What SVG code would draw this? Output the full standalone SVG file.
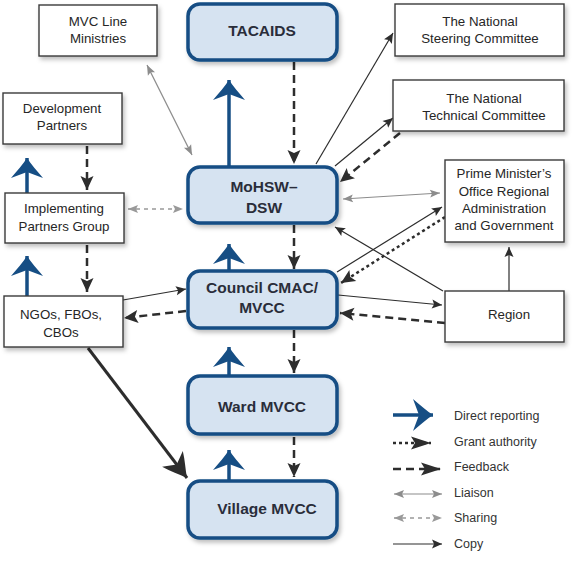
<svg xmlns="http://www.w3.org/2000/svg" width="579" height="561" viewBox="0 0 579 561">
<style>
.bn rect{fill:#d6e3f1;stroke:#164e84;stroke-width:3.5}
.wn rect{fill:#fff;stroke:#3a3a3a;stroke-width:1.4}
.bt{font-family:"Liberation Sans",Arial,sans-serif;font-weight:bold;font-size:15.5px;fill:#2a2d3a;text-anchor:middle}
.wt{font-family:"Liberation Sans",Arial,sans-serif;font-size:13.3px;fill:#262626;text-anchor:middle}
.lt{font-family:"Liberation Sans",Arial,sans-serif;font-size:12.5px;fill:#333}
.blue{stroke:#164e84;stroke-width:3.5;fill:none}
.fb{stroke:#2d2d2d;stroke-width:2.5;stroke-dasharray:8,5;fill:none}
.ga{stroke:#2d2d2d;stroke-width:2.5;stroke-dasharray:3,3;fill:none}
.cp{stroke:#2d2d2d;stroke-width:1.2;fill:none}
.li{stroke:#8c8c8c;stroke-width:1.2;fill:none}
.sh{stroke:#999;stroke-width:1.5;stroke-dasharray:4,4;fill:none}
</style>
<defs>
<filter id="ds" x="-10%" y="-10%" width="130%" height="140%">
<feDropShadow dx="2" dy="3" stdDeviation="2" flood-color="#000" flood-opacity="0.25"/>
</filter>
<marker id="mBlue" markerUnits="userSpaceOnUse" viewBox="-22 -17 24 34" refX="0" refY="0" markerWidth="24" markerHeight="34" orient="auto">
<path d="M0,0 C-6,-4 -13,-10 -20,-16 L-14,0 L-20,16 C-13,10 -6,4 0,0 Z" fill="#164e84"/>
</marker>
<marker id="mBig" markerUnits="userSpaceOnUse" viewBox="-26 -15 28 30" refX="0" refY="0" markerWidth="28" markerHeight="30" orient="auto">
<path d="M0,0 C-8,-4 -15,-9 -24,-13 L-17,0 L-24,13 C-15,9 -8,4 0,0 Z" fill="#2d2d2d"/>
</marker>
<marker id="mFb" markerUnits="userSpaceOnUse" viewBox="-16 -8 18 16" refX="0" refY="0" markerWidth="18" markerHeight="16" orient="auto">
<path d="M0,0 L-14,-6.5 L-11,0 L-14,6.5 Z" fill="#2d2d2d"/>
</marker>
<marker id="mFbL" markerUnits="userSpaceOnUse" viewBox="-22 -8 24 16" refX="0" refY="0" markerWidth="24" markerHeight="16" orient="auto">
<path d="M0,0 L-20,-6.5 L-16,0 L-20,6.5 Z" fill="#2d2d2d"/>
</marker>
<marker id="mCp" markerUnits="userSpaceOnUse" viewBox="-12 -6 14 12" refX="0" refY="0" markerWidth="14" markerHeight="12" orient="auto">
<path d="M0,0 L-10,-4.5 L-8,0 L-10,4.5 Z" fill="#2d2d2d"/>
</marker>
<marker id="mLi" markerUnits="userSpaceOnUse" viewBox="-12 -6 14 12" refX="0" refY="0" markerWidth="14" markerHeight="12" orient="auto-start-reverse">
<path d="M0,0 L-10,-4 L-8,0 L-10,4 Z" fill="#8c8c8c"/>
</marker>
<marker id="mSh" markerUnits="userSpaceOnUse" viewBox="-12 -6 14 12" refX="0" refY="0" markerWidth="14" markerHeight="12" orient="auto-start-reverse">
<path d="M0,0 L-10,-4 L-8,0 L-10,4 Z" fill="#999"/>
</marker>
</defs>

<g id="connectors">
<path class="blue" d="M229,167 V80" marker-end="url(#mBlue)"/>
<path class="blue" d="M229,270 V244" marker-end="url(#mBlue)"/>
<path class="blue" d="M229,375 V347" marker-end="url(#mBlue)"/>
<path class="blue" d="M229,480 V450" marker-end="url(#mBlue)"/>
<path class="blue" d="M27,193 V158" marker-end="url(#mBlue)"/>
<path class="blue" d="M27,296 V256" marker-end="url(#mBlue)"/>
<path class="fb" d="M294,62 V164" marker-end="url(#mFb)"/>
<path class="fb" d="M294,225 V269" marker-end="url(#mFb)"/>
<path class="fb" d="M294,330 V373" marker-end="url(#mFb)"/>
<path class="fb" d="M294,437 V477" marker-end="url(#mFb)"/>
<path class="fb" d="M87,146 V190" marker-end="url(#mFb)"/>
<path class="fb" d="M87,245 V292" marker-end="url(#mFb)"/>
<path class="fb" d="M186,311 L124,318" marker-end="url(#mFb)"/>
<path class="fb" d="M400,133 L340,182" marker-end="url(#mFb)"/>
<path class="fb" d="M445,323 L340,313" marker-end="url(#mFb)"/>
<path class="ga" d="M445,217 L341,283" marker-end="url(#mFb)"/>
<path stroke="#2d2d2d" stroke-width="3" fill="none" d="M88,348 L187,478" marker-end="url(#mBig)"/>
<path class="cp" d="M123,300 L186,289" marker-end="url(#mCp)"/>
<path class="cp" d="M316,164 L393,33" marker-end="url(#mCp)"/>
<path class="cp" d="M335,166 L393,118" marker-end="url(#mCp)"/>
<path class="cp" d="M337,272 L442,207" marker-end="url(#mCp)"/>
<path class="cp" d="M443,291 L335,227" marker-end="url(#mCp)"/>
<path class="cp" d="M338,295 L442,305" marker-end="url(#mCp)"/>
<path class="cp" d="M509,291 V247" marker-end="url(#mCp)"/>
<path class="li" d="M147,65 L192,155" marker-start="url(#mLi)" marker-end="url(#mLi)"/>
<path class="li" d="M343,199 L440,193" marker-start="url(#mLi)" marker-end="url(#mLi)"/>
<path class="sh" d="M128,209 L183,209" marker-start="url(#mSh)" marker-end="url(#mSh)"/>
</g>

<g id="tacaids" class="bn"><rect x="188" y="4" width="149" height="56" rx="12" filter="url(#ds)"/><text class="bt" x="262" y="36">TACAIDS</text></g>
<g id="mohsw" class="bn"><rect x="188" y="167" width="149" height="56" rx="12" filter="url(#ds)"/><text class="bt" x="264" y="192">MoHSW–</text><text class="bt" x="264" y="213">DSW</text></g>
<g id="council" class="bn"><rect x="188" y="271" width="149" height="57" rx="12" filter="url(#ds)"/><text class="bt" x="262" y="293">Council CMAC/</text><text class="bt" x="262" y="313">MVCC</text></g>
<g id="ward" class="bn"><rect x="188" y="376" width="149" height="58" rx="12" filter="url(#ds)"/><text class="bt" x="262" y="412">Ward MVCC</text></g>
<g id="village" class="bn"><rect x="188" y="481" width="149" height="57" rx="12" filter="url(#ds)"/><text class="bt" x="267" y="514">Village MVCC</text></g>

<g id="mvc" class="wn"><rect x="39" y="5" width="118" height="51" filter="url(#ds)"/><text class="wt" x="98" y="26">MVC Line</text><text class="wt" x="98" y="43">Ministries</text></g>
<g id="devpartners" class="wn"><rect x="3" y="93" width="119" height="51" filter="url(#ds)"/><text class="wt" x="62" y="113">Development</text><text class="wt" x="62" y="130">Partners</text></g>
<g id="ipg" class="wn"><rect x="5" y="193" width="119" height="50" filter="url(#ds)"/><text class="wt" x="64" y="213">Implementing</text><text class="wt" x="64" y="231">Partners Group</text></g>
<g id="ngos" class="wn"><rect x="4" y="296" width="119" height="51" filter="url(#ds)"/><text class="wt" x="61" y="319">NGOs, FBOs,</text><text class="wt" x="61" y="337">CBOs</text></g>
<g id="steering" class="wn"><rect x="395" y="4" width="169" height="52" filter="url(#ds)"/><text class="wt" x="480" y="26">The National</text><text class="wt" x="480" y="43">Steering Committee</text></g>
<g id="technical" class="wn"><rect x="393" y="80" width="171" height="51" filter="url(#ds)"/><text class="wt" x="484" y="103">The National</text><text class="wt" x="484" y="120">Technical Committee</text></g>
<g id="pmo" class="wn"><rect x="445" y="160" width="119" height="82" filter="url(#ds)"/><text class="wt" x="504" y="178">Prime Minister’s</text><text class="wt" x="504" y="196">Office Regional</text><text class="wt" x="504" y="213">Administration</text><text class="wt" x="504" y="230">and Government</text></g>
<g id="region" class="wn"><rect x="445" y="291" width="119" height="51" filter="url(#ds)"/><text class="wt" x="509" y="319">Region</text></g>

<g id="legend">
<path class="blue" d="M393,415 H433" marker-end="url(#mBlue)"/>
<text class="lt" x="454" y="420">Direct reporting</text>
<path class="ga" d="M393,443 H431" marker-end="url(#mFbL)"/>
<text class="lt" x="454" y="446">Grant authority</text>
<path class="fb" d="M393,469 H441" marker-end="url(#mFbL)"/>
<text class="lt" x="454" y="471">Feedback</text>
<path class="li" d="M394,494 H442" marker-start="url(#mLi)" marker-end="url(#mLi)"/>
<text class="lt" x="454" y="497">Liaison</text>
<path class="sh" d="M394,518 H442" marker-start="url(#mSh)" marker-end="url(#mSh)"/>
<text class="lt" x="454" y="522">Sharing</text>
<path class="cp" d="M393,544 H442" marker-end="url(#mCp)"/>
<text class="lt" x="454" y="548">Copy</text>
</g>
</svg>
